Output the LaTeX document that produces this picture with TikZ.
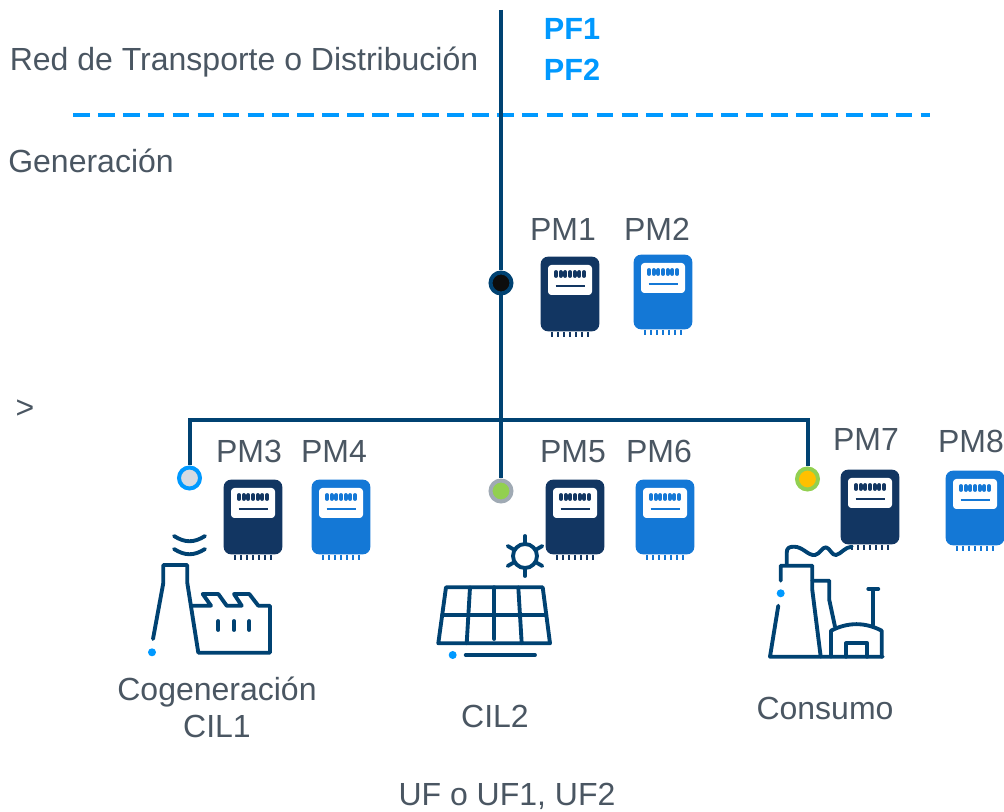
\documentclass[tikz,border=0pt]{standalone}
\usepackage{fontspec}
\setmainfont{Liberation Sans}
\usetikzlibrary{calc}
\definecolor{linecol}{HTML}{004272}
\definecolor{textcol}{HTML}{4A5662}
\definecolor{pfblue}{HTML}{0099FF}
\definecolor{meterdark}{HTML}{123662}
\definecolor{meterblue}{HTML}{1478D6}
\definecolor{jgray}{HTML}{D6DAE2}
\definecolor{jring}{HTML}{A0AAB4}
\definecolor{jgreen}{HTML}{92D050}
\definecolor{jorange}{HTML}{FFC000}
\tikzset{
  txt/.style={text=textcol,font=\fontsize{24}{28}\selectfont,inner sep=0pt,text height=17pt,text depth=0pt},
  pftxt/.style={text=pfblue,font=\fontsize{23}{27}\selectfont\bfseries,inner sep=0pt,text height=16.5pt,text depth=0pt},
  busline/.style={draw=linecol,line width=3pt},
  icon/.style={draw=linecol,line width=2.9pt,line cap=round,line join=round},
  junction/.style={circle,line width=3pt,minimum size=15.75pt,inner sep=0pt},
  dotmark/.style={circle,fill=pfblue,minimum size=6pt,inner sep=0pt},
}
\newcommand{\meter}[4]{%
  \node [rectangle,rounded corners=5.5pt,fill=#4,minimum width=44pt,minimum height=56pt,inner sep=0pt] (#1) at (#2,#3) {};
  \node [rectangle,rounded corners=2.5pt,fill=white,minimum width=33pt,minimum height=22.5pt,inner sep=0pt] (#1w) at (#2,#3-14) {};
  \foreach \dx in {-14,-9.33,-4.67,0,4.67,9.33,14} {
    \draw [#4,line width=2.9pt,line cap=round] (#2+\dx,#3-22) -- (#2+\dx,#3-18);
    \draw [#4,line width=1.6pt] (#2+\dx*1.3,#3+38) -- (#2+\dx*1.3,#3+43);
  }
  \draw [#4,line width=1.7pt] (#2-14.5,#3-8) -- (#2+14.5,#3-8);
}
\begin{document}
\begin{tikzpicture}[x=0.75pt,y=-0.75pt]
  \useasboundingbox (0,0) rectangle (1004,812);
  \node [txt] (red) at (244,59) {Red de Transporte o Distribución};
  \node [pftxt] (PF1) at (572,29) {PF1};
  \node [pftxt] (PF2) at (572,70) {PF2};
  \node [txt] (gen) at (91,161) {Generación};
  \node [txt] (gt) at (25,407) {>};
  \node [txt] (PM1t) at (563,229) {PM1};
  \node [txt] (PM2t) at (657,229) {PM2};
  \node [txt] (PM3t) at (249,451) {PM3};
  \node [txt] (PM4t) at (334,451) {PM4};
  \node [txt] (PM5t) at (573,451) {PM5};
  \node [txt] (PM6t) at (659,451) {PM6};
  \node [txt] (PM7t) at (866,439) {PM7};
  \node [txt] (PM8t) at (971,441) {PM8};
  \node [txt] (cog) at (217,689) {Cogeneración};
  \node [txt] (CIL1) at (217,726) {CIL1};
  \node [txt] (CIL2) at (495,716) {CIL2};
  \node [txt] (cons) at (825,708) {Consumo};
  \node [txt] (UF) at (507,794) {UF o UF1, UF2};

  \coordinate (dashL) at (73,115);
  \coordinate (dashR) at (930,115);
  \draw [pfblue,line width=2.6pt,dash pattern=on 12.5pt off 6.2pt] (dashL) -- (dashR);

  \node [junction,draw=linecol,fill=black!95] (J1) at (501,283) {};
  \node [junction,draw=pfblue,fill=jgray] (JL) at (189.5,478) {};
  \node [junction,draw=jring,fill=jgreen] (JM) at (501,491) {};
  \node [junction,draw=jgreen,fill=jorange] (JR) at (807.5,479) {};
  \coordinate (top) at (501,10);
  \coordinate (cornerL) at (189.5,420);
  \coordinate (cornerR) at (807.5,420);
  \draw [busline] (top) -- (J1);
  \draw [busline] (J1) -- (JM);
  \draw [busline] (JL) -- (cornerL) -- (cornerR) -- (JR);

  \meter{PM1}{570}{294}{meterdark}
  \meter{PM2}{663}{292}{meterblue}
  \meter{PM3}{253}{517}{meterdark}
  \meter{PM4}{341}{517}{meterblue}
  \meter{PM5}{575}{517}{meterdark}
  \meter{PM6}{665}{517}{meterblue}
  \meter{PM7}{870}{507}{meterdark}
  \meter{PM8}{975}{508}{meterblue}

  % factory
  \draw [icon] (174,536) .. controls (185,543) and (194,543) .. (205,536);
  \draw [icon] (174,549) .. controls (185,556) and (194,556) .. (205,549);
  \draw [icon] (153,639) -- (163.3,583) -- (163.3,565) -- (187.3,565) -- (187.3,583) -- (198.3,652.7) -- (270,652.7) -- (270,605.7) -- (258.3,605.7) -- (249.3,594) -- (234,594) -- (241.7,605.7) -- (226.7,605.7) -- (218.3,594) -- (202.7,594) -- (211,605.7) -- (191,605.7);
  \foreach \tx in {218.3,234,249.3}
    \draw [icon] (\tx,621) -- (\tx,630);
  \node [dotmark] (dotF) at (152,652.3) {};

  % solar panel
  \draw [icon] (525,556) circle (9pt);
  \foreach \ang in {90,150,210,270,330,30}
    \draw [icon] ($(525,556)+(\ang:12.5)$) -- ($(525,556)+(\ang:20)$);
  \draw [icon] (446,587.3) -- (542.7,587.3) -- (550,643.3) -- (438.3,643.3) -- cycle;
  \draw [icon] (442.3,615) -- (546.3,615);
  \draw [icon] (470,587.3) -- (466.7,643.3);
  \draw [icon] (494.3,587.3) -- (494.3,639);
  \draw [icon] (518.3,587.3) -- (521.7,643.3);
  \node [dotmark] (dotS) at (452.7,655) {};
  \draw [icon] (465.7,655) -- (535,655);

  % plant
  \draw [icon] (778.3,605.7) -- (770,656.7) -- (882.7,656.7);
  \draw [icon] (780.7,580.7) -- (780.7,565.7) -- (812.3,565.7) -- (812.3,590) -- (820.7,656.7);
  \draw [icon] (812.3,580.7) -- (829.3,580.7) -- (829.3,600) -- (835,626.7);
  \draw [icon] (831,656.7) -- (831,630.7) .. controls (848,622) and (865,622) .. (881.7,630.7) -- (881.7,656.7);
  \draw [icon] (873.3,625) -- (873.3,589);
  \draw [icon] (868.3,589) -- (878.3,589);
  \draw [icon] (846,656.7) -- (846,643.3) -- (867.3,643.3) -- (867.3,656.7);
  \draw [icon] (786.7,565) -- (786.7,553) .. controls (786.7,548) and (789,546.7) .. (794,546.7) .. controls (803,546.7) and (808,556) .. (815,555) .. controls (820,554) and (822,547) .. (826,547.3) .. controls (830,548) and (832,556) .. (836,555) .. controls (841,554) and (845,547) .. (851.7,546.7);
  \node [dotmark] (dotP) at (780.7,593.3) {};
\end{tikzpicture}
\end{document}
